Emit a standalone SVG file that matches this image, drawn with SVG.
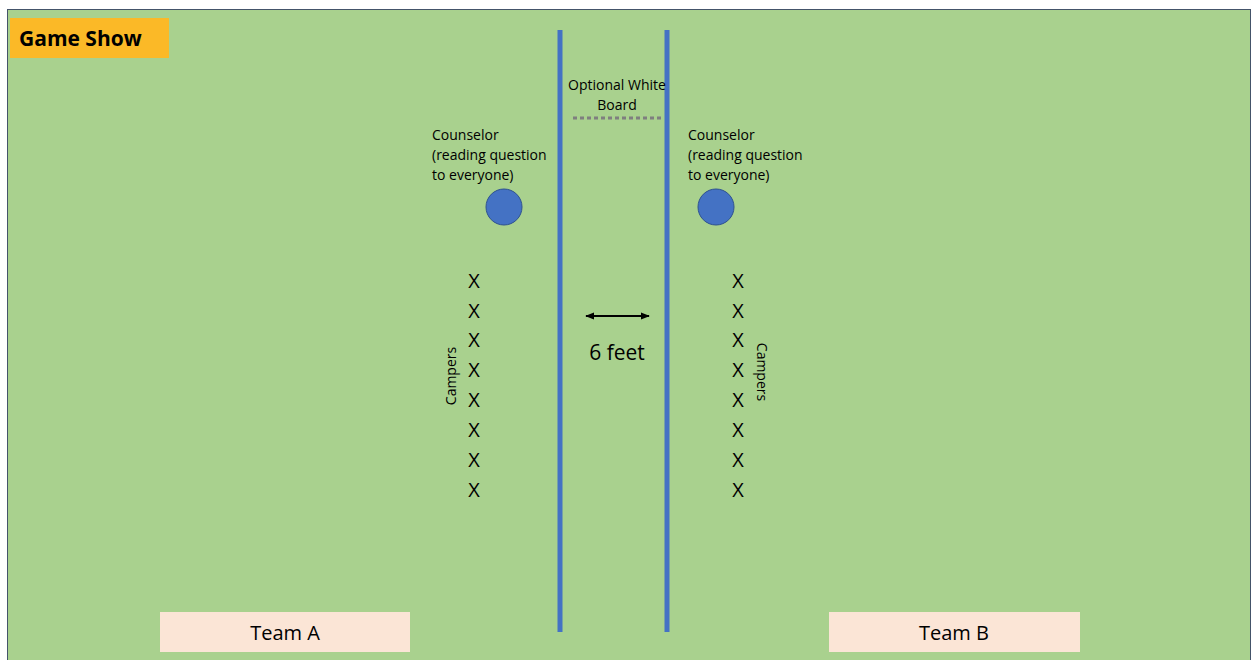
<svg xmlns="http://www.w3.org/2000/svg" width="1253" height="660" viewBox="0 0 1253 660">
<style>
.t{font-family:"Open Sans","Liberation Sans",sans-serif;fill:#000}
.s{font-size:14px}
.x{font-size:20px;text-anchor:middle}
.line{stroke:#4472C4;stroke-width:5}
.dot{fill:#4472C4;stroke:#2F528F;stroke-width:1}
.team{fill:#FBE5D6}
</style>
<defs>
<marker id="ah" viewBox="0 0 10 10" refX="9" refY="5" markerWidth="9" markerHeight="9" markerUnits="userSpaceOnUse" orient="auto-start-reverse">
<path d="M0,1 L10,5 L0,9 Z" fill="#000"/>
</marker>
</defs>
<rect x="0" y="0" width="1253" height="660" fill="#fff"/>
<rect x="7.5" y="9.5" width="1243" height="655" fill="#A9D18E" stroke="#44546A" stroke-width="1"/>
<g id="title">
<rect x="10" y="18" width="159" height="40" fill="#FBB927"/>
<text class="t" x="19" y="46" font-size="21" font-weight="bold">Game Show</text>
</g>
<g id="lines">
<line class="line" x1="560" y1="30" x2="560" y2="632"/>
<line class="line" x1="667" y1="30" x2="667" y2="632"/>
</g>
<g id="whiteboard">
<text class="t s" x="617" y="90" text-anchor="middle">Optional White</text>
<text class="t s" x="617" y="110" text-anchor="middle">Board</text>
<line x1="573" y1="118" x2="661" y2="118" stroke="#7F7F7F" stroke-width="3" stroke-dasharray="4,3"/>
</g>
<g id="counselorA">
<text class="t s" x="432" y="140">Counselor</text>
<text class="t s" x="432" y="160">(reading question</text>
<text class="t s" x="432" y="180">to everyone)</text>
<circle class="dot" cx="504" cy="207" r="18"/>
</g>
<g id="counselorB">
<text class="t s" x="688" y="140">Counselor</text>
<text class="t s" x="688" y="160">(reading question</text>
<text class="t s" x="688" y="180">to everyone)</text>
<circle class="dot" cx="716" cy="207" r="18"/>
</g>
<g id="campersA">
<text class="t x" x="474" y="288">X</text>
<text class="t x" x="474" y="318">X</text>
<text class="t x" x="474" y="347">X</text>
<text class="t x" x="474" y="377">X</text>
<text class="t x" x="474" y="407">X</text>
<text class="t x" x="474" y="437">X</text>
<text class="t x" x="474" y="467">X</text>
<text class="t x" x="474" y="497">X</text>
<text class="t s" transform="translate(456,376) rotate(-90)" text-anchor="middle">Campers</text>
</g>
<g id="campersB">
<text class="t x" x="738" y="288">X</text>
<text class="t x" x="738" y="318">X</text>
<text class="t x" x="738" y="347">X</text>
<text class="t x" x="738" y="377">X</text>
<text class="t x" x="738" y="407">X</text>
<text class="t x" x="738" y="437">X</text>
<text class="t x" x="738" y="467">X</text>
<text class="t x" x="738" y="497">X</text>
<text class="t s" transform="translate(757,372) rotate(90)" text-anchor="middle">Campers</text>
</g>
<g id="connectors">
<line x1="586" y1="316" x2="649" y2="316" stroke="#000" stroke-width="2" marker-start="url(#ah)" marker-end="url(#ah)"/>
</g>
<g id="distance">
<text class="t" x="617" y="360" font-size="21" text-anchor="middle">6 feet</text>
</g>
<g id="teamA">
<rect class="team" x="160" y="612" width="250" height="40"/>
<text class="t" x="285" y="640" font-size="20" text-anchor="middle">Team A</text>
</g>
<g id="teamB">
<rect class="team" x="829" y="612" width="251" height="40"/>
<text class="t" x="954" y="640" font-size="20" text-anchor="middle">Team B</text>
</g>
</svg>
